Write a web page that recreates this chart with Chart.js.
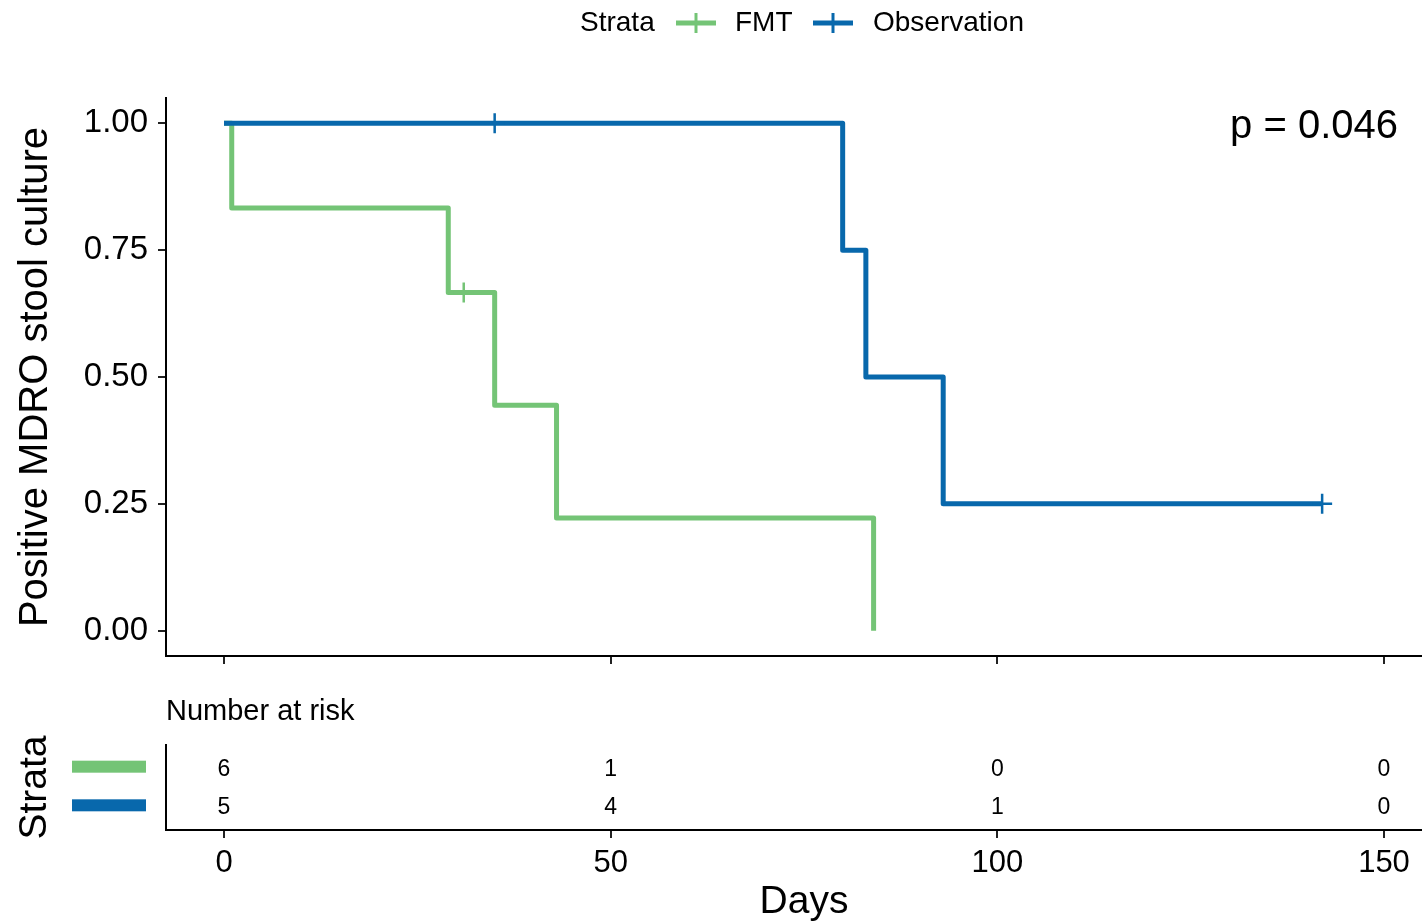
<!DOCTYPE html>
<html><head><meta charset="utf-8">
<script src="https://cdn.jsdelivr.net/npm/chart.js@4"></script>
<style>
html,body{margin:0;padding:0;background:#fff;overflow:hidden;width:1422px;height:923px;}
#wrap{position:relative;width:1422px;height:923px;overflow:hidden;background:#fff;}
#c1{position:absolute;left:0;top:0;}
#c2{position:absolute;left:0;top:680px;}
</style></head><body>
<div id="wrap"><canvas id="c1" width="1442" height="680"></canvas><canvas id="c2" width="1442" height="246"></canvas></div>
<script>
// ---- data ----
const strata = ['FMT', 'Observation'];
const strataColors = ['#74C476', '#0868AC'];
const legendTitle = 'Strata';
const fmtTimes = [0, 1, 29, 35, 43, 84];
const fmtSurv = [1, 0.8333, 0.6667, 0.4444, 0.2222, 0];
const fmtCensorTimes = [31];
const fmtCensorSurv = [0.6667];
const obsTimes = [0, 80, 83, 93, 142];
const obsSurv = [1, 0.75, 0.5, 0.25, 0.25];
const obsCensorTimes = [35, 142];
const obsCensorSurv = [1, 0.25];
const xTicks = [0, 50, 100, 150];
const xTickLabels = ['0', '50', '100', '150'];
const yTicks = [0, 0.25, 0.5, 0.75, 1];
const yTickLabels = ['0.00', '0.25', '0.50', '0.75', '1.00'];
const riskTimes = [0, 50, 100, 150];
const riskFMT = [6, 1, 0, 0];
const riskObs = [5, 4, 1, 0];
const pValueText = 'p = 0.046';
const yTitle = 'Positive MDRO stool culture';
const xTitle = 'Days';
const riskTitle = 'Number at risk';

const FONT = '"Liberation Sans", Arial, Helvetica, sans-serif';
const pts = (xs, ys) => xs.map((t, i) => ({x: t, y: ys[i]}));
const zeroPad = s => { s.paddingLeft = 0; s.paddingRight = 0; s.paddingTop = 0; s.paddingBottom = 0; };

const axisCommon = (ticksArr) => ({
  type: 'linear',
  afterBuildTicks: s => { s.ticks = ticksArr.map(v => ({value: v})); },
  grid: {drawOnChartArea: false, drawTicks: true, tickLength: 8, color: '#222', lineWidth: 2},
  border: {display: true, color: '#000', width: 2}
});

// ---- chart 1: survival curves ----
const annot1 = {
  id: 'annot1',
  afterDraw(chart) {
    const ctx = chart.ctx;
    ctx.save();
    ctx.fillStyle = '#000';
    ctx.font = '28px ' + FONT;
    ctx.textBaseline = 'middle';
    ctx.textAlign = 'left';
    const ly = 23;
    ctx.fillText(legendTitle, 580, ly);
    const items = [{x: 676, tx: 735}, {x: 813, tx: 873}];
    items.forEach((it, i) => {
      ctx.strokeStyle = strataColors[i];
      ctx.lineWidth = 5;
      ctx.beginPath(); ctx.moveTo(it.x, ly); ctx.lineTo(it.x + 40, ly); ctx.stroke();
      ctx.lineWidth = 3;
      ctx.beginPath(); ctx.moveTo(it.x + 20, ly - 10); ctx.lineTo(it.x + 20, ly + 10); ctx.stroke();
      ctx.fillStyle = '#000';
      ctx.fillText(strata[i], it.tx, ly);
    });
    ctx.font = '40px ' + FONT;
    ctx.textAlign = 'right';
    ctx.textBaseline = 'alphabetic';
    ctx.fillText(pValueText, 1398, 138);
    ctx.restore();
  }
};

const lineDs = (label, data, color, order) => ({
  label, data, borderColor: color, backgroundColor: color, borderWidth: 5,
  stepped: 'before', pointRadius: 0, fill: false, order,
  borderJoinStyle: 'round', borderCapStyle: 'butt'
});
const censorDs = (label, data, color, order) => ({
  label, data, showLine: false, pointStyle: 'cross', pointRadius: 10,
  pointBorderWidth: 2.5, pointBorderColor: color, pointBackgroundColor: color, order
});

new Chart(document.getElementById('c1'), {
  type: 'line',
  data: {
    datasets: [
      lineDs(strata[1], pts(obsTimes, obsSurv), strataColors[1], 0),
      censorDs(strata[1] + ' censored', pts(obsCensorTimes, obsCensorSurv), strataColors[1], -1),
      lineDs(strata[0], pts(fmtTimes, fmtSurv), strataColors[0], 2),
      censorDs(strata[0] + ' censored', pts(fmtCensorTimes, fmtCensorSurv), strataColors[0], 1)
    ]
  },
  options: {
    responsive: false, animation: false, devicePixelRatio: 1,
    layout: {autoPadding: false, padding: {top: 98, left: 0, right: 0, bottom: 0}},
    plugins: {legend: {display: false}, tooltip: {enabled: false}},
    scales: {
      x: Object.assign(axisCommon(xTicks), {
        min: -7.5, max: 157.5,
        ticks: {display: false},
        afterFit: s => { s.height = 24; zeroPad(s); }
      }),
      y: Object.assign(axisCommon(yTicks), {
        min: -0.05, max: 1.05,
        ticks: {color: '#000', font: {family: FONT, size: 33}, padding: 10,
          callback: v => yTickLabels[yTicks.indexOf(v)]},
        title: {display: true, text: yTitle, color: '#000', font: {family: FONT, size: 40}, padding: {top: 12, bottom: 0}},
        afterFit: s => { s.width = 166; zeroPad(s); }
      })
    }
  },
  plugins: [annot1]
});

// ---- chart 2: risk table ----
const riskRows = [riskFMT, riskObs];
const annot2 = {
  id: 'annot2',
  afterDraw(chart) {
    const {ctx, scales: {x}} = chart;
    ctx.save();
    ctx.fillStyle = '#000';
    ctx.font = '29px ' + FONT;
    ctx.textAlign = 'left';
    ctx.textBaseline = 'alphabetic';
    ctx.fillText(riskTitle, x.left, 40);
    ctx.font = '23px ' + FONT;
    ctx.textAlign = 'center';
    ctx.textBaseline = 'middle';
    riskRows.forEach((row, r) => {
      const meta = chart.getDatasetMeta(r);
      meta.data.forEach((el, i) => {
        ctx.fillStyle = '#000';
        ctx.fillText(String(row[i]), el.x, el.y + 1);
      });
      const py = meta.data[0].y;
      ctx.fillStyle = strataColors[r];
      ctx.fillRect(72, py - 7.5, 74, 12);
    });
    ctx.restore();
  }
};

new Chart(document.getElementById('c2'), {
  type: 'line',
  data: {
    datasets: riskRows.map((row, r) => ({
      label: strata[r],
      data: riskTimes.map((t, i) => ({x: t, y: strata.length - r})),
      showLine: false, pointRadius: 0
    }))
  },
  options: {
    responsive: false, animation: false, devicePixelRatio: 1,
    layout: {autoPadding: false, padding: {top: 65, left: 0, right: 0, bottom: 0}},
    plugins: {legend: {display: false}, tooltip: {enabled: false}},
    scales: {
      x: Object.assign(axisCommon(xTicks), {
        min: -7.5, max: 157.5,
        ticks: {color: '#000', font: {family: FONT, size: 31}, padding: 7,
          callback: v => xTickLabels[xTicks.indexOf(v)]},
        title: {display: true, text: xTitle, color: '#000', font: {family: FONT, size: 39}, padding: {top: 0, bottom: 0}},
        afterFit: s => { s.height = 96; zeroPad(s); }
      }),
      y: {
        type: 'linear', min: 0.4, max: 2.6,
        ticks: {display: false},
        grid: {drawOnChartArea: false, drawTicks: false},
        border: {display: true, color: '#000', width: 2},
        title: {display: true, text: legendTitle, color: '#000', font: {family: FONT, size: 39}, padding: {top: 12, bottom: 0}},
        afterFit: s => { s.width = 166; zeroPad(s); }
      }
    }
  },
  plugins: [annot2]
});
</script>
</body></html>
